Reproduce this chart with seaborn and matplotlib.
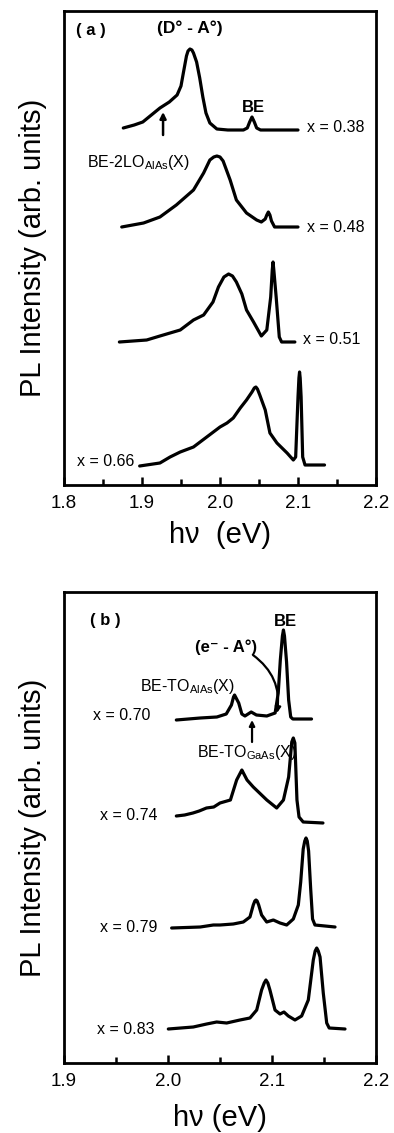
import numpy as np
import matplotlib
matplotlib.use("Agg")
import matplotlib.pyplot as plt
import seaborn as sns

sns.set_theme(style="ticks")
plt.rcParams['font.family'] = ['Liberation Sans', 'DejaVu Sans']
plt.rcParams['mathtext.fontset'] = 'custom'
plt.rcParams['mathtext.rm'] = 'Liberation Sans'
plt.rcParams['mathtext.default'] = 'regular'
plt.rcParams['text.color'] = 'black'
plt.rcParams['axes.labelcolor'] = 'black'
plt.rcParams['xtick.color'] = 'black'
plt.rcParams['ytick.color'] = 'black'

# ---------------- Panel (a) data ----------------
XTICKS_A = [1.8, 1.9, 2.0, 2.1, 2.2]
LABELS_A = ["x = 0.38", "x = 0.48", "x = 0.51", "x = 0.66"]
OFFSETS_A = [357, 258, 143, 19]

E_a38 = [1.876, 1.890, 1.901, 1.912, 1.923, 1.935, 1.945, 1.950, 1.953, 1.957, 1.959, 1.9615,
         1.964, 1.966, 1.970, 1.974, 1.978, 1.982, 1.987, 1.996, 2.010, 2.030, 2.035, 2.038,
         2.041, 2.044, 2.047, 2.052, 2.070, 2.100]
I_a38 = [0, 3, 6, 13, 20, 26, 33, 42, 55, 72, 77, 79, 78, 75, 66, 50, 31, 15, 5, -1, -2, -2,
         0, 6, 11, 6, 0, -2, -2, -2]

E_a48 = [1.874, 1.902, 1.923, 1.944, 1.966, 1.979, 1.987, 1.992, 1.996, 2.000, 2.004, 2.013,
         2.021, 2.034, 2.047, 2.053, 2.058, 2.060, 2.062, 2.064, 2.066, 2.070, 2.080, 2.100]
I_a48 = [0, 4, 10, 22, 37, 54, 67, 70, 71, 70, 66, 47, 27, 14, 7, 5, 8, 12, 15, 12, 6, 0, 0, 0]

E_a51 = [1.871, 1.906, 1.923, 1.949, 1.966, 1.979, 1.991, 1.998, 2.005, 2.011, 2.016, 2.021,
         2.028, 2.034, 2.043, 2.053, 2.060, 2.065, 2.067, 2.068, 2.069, 2.072, 2.076, 2.079,
         2.096]
I_a51 = [0, 2, 6, 12, 22, 27, 40, 55, 65, 68, 66, 60, 48, 32, 20, 6, 12, 45, 72, 80, 72, 45,
         5, 0, 0]

E_a66 = [1.897, 1.923, 1.936, 1.949, 1.966, 1.983, 2.000, 2.009, 2.017, 2.026, 2.034, 2.041,
         2.044, 2.046, 2.048, 2.051, 2.058, 2.064, 2.073, 2.086, 2.094, 2.097, 2.100, 2.1012,
         2.102, 2.1028, 2.104, 2.106, 2.109, 2.134]
I_a66 = [0, 3, 9, 14, 19, 29, 39, 43, 48, 58, 66, 74, 78, 79, 77, 71, 56, 33, 23, 13, 6, 9,
         69, 88, 94, 88, 69, 9, 1, 1]

# ---------------- Panel (b) data ----------------
XTICKS_B = [1.9, 2.0, 2.1, 2.2]
LABELS_B = ["x = 0.70", "x = 0.74", "x = 0.79", "x = 0.83"]
OFFSETS_B = [343, 240, 135, 34]

E_b70 = [2.008, 2.031, 2.047, 2.056, 2.061, 2.063, 2.064, 2.065, 2.068, 2.071, 2.074, 2.080,
         2.085, 2.095, 2.103, 2.106, 2.108, 2.110, 2.111, 2.112, 2.114, 2.116, 2.118, 2.120,
         2.138]
I_b70 = [0, 2, 3, 6, 15, 23, 25, 23, 17, 6, 4, 8, 5, 4, 7, 27, 60, 84, 90, 84, 58, 20, 3, 1, 1]

E_b74 = [2.008, 2.016, 2.024, 2.030, 2.037, 2.044, 2.050, 2.060, 2.066, 2.070, 2.071, 2.072,
         2.076, 2.082, 2.088, 2.095, 2.1045, 2.111, 2.116, 2.119, 2.1205, 2.122, 2.124, 2.126,
         2.130, 2.149]
I_b74 = [7, 8, 10, 12, 15, 16, 20, 23, 43, 51, 53, 51, 43, 36, 30, 23, 15, 23, 46, 81, 85, 80,
         23, 6, 1, 0]

E_b79 = [2.0035, 2.031, 2.0436, 2.050, 2.0628, 2.0724, 2.0788, 2.082, 2.0835, 2.0846, 2.0857,
         2.0872, 2.090, 2.0949, 2.1013, 2.1077, 2.1141, 2.1205, 2.1253, 2.1276, 2.130, 2.1315,
         2.1327, 2.1339, 2.1352, 2.1372, 2.139, 2.1413, 2.1606]
I_b79 = [0, 1, 3, 3, 4, 6, 11, 23, 27, 28, 27, 23, 13, 6, 8, 5, 3, 9, 23, 46, 79, 87, 90, 87,
         77, 39, 9, 3, 1]

E_b83 = [2.0003, 2.0243, 2.0372, 2.0468, 2.0564, 2.0692, 2.0788, 2.0853, 2.090, 2.0925, 2.0942,
         2.0960, 2.098, 2.1029, 2.1077, 2.1115, 2.1157, 2.1221, 2.1285, 2.1349, 2.1397, 2.1415,
         2.143, 2.1445, 2.1462, 2.1493, 2.1526, 2.155, 2.1702]
I_b83 = [0, 2, 5, 7, 6, 9, 11, 19, 39, 46, 49, 46, 39, 19, 15, 17, 13, 9, 13, 29, 69, 78, 81,
         78, 72, 36, 6, 1, 0]

CURVES_A = [(E_a38, I_a38), (E_a48, I_a48), (E_a51, I_a51), (E_a66, I_a66)]
CURVES_B = [(E_b70, I_b70), (E_b74, I_b74), (E_b79, I_b79), (E_b83, I_b83)]

W, H = 394, 1133
fig = plt.figure(figsize=(W / 100, H / 100), dpi=100)
ax_a = fig.add_axes([64 / W, 1 - 485 / H, 312 / W, 474 / H])
ax_b = fig.add_axes([64 / W, 1 - 1063 / H, 312 / W, 471 / H])

LW = 2.3
for ax, curves, offsets in ((ax_a, CURVES_A, OFFSETS_A), (ax_b, CURVES_B, OFFSETS_B)):
    for (e, i), off in zip(curves, offsets):
        sns.lineplot(x=e, y=np.array(i) + off, ax=ax, color='black', lw=LW,
                     sort=False, estimator=None,
                     solid_joinstyle='round', solid_capstyle='round')

def style(ax, xlim, ylim, xticks, xlabel, xlabel_y):
    ax.set_xlim(*xlim)
    ax.set_ylim(*ylim)
    ax.set_xticks(xticks)
    ax.set_xticklabels([f"{t:.1f}" for t in xticks], fontsize=13.5)
    ax.set_xticks(np.array(xticks[:-1]) + 0.05, minor=True)
    ax.set_yticks([])
    ax.tick_params(axis='x', which='major', direction='in', length=6, width=1.8,
                   pad=7, colors='black', top=False)
    ax.tick_params(axis='x', which='minor', direction='in', length=4, width=1.8,
                   top=False, bottom=True)
    for s in ax.spines.values():
        s.set_linewidth(2.0)
        s.set_color('black')
        s.set_visible(True)
    ax.set_facecolor('white')
    ax.set_xlabel(xlabel, fontsize=21, va='center')
    ax.xaxis.set_label_coords(0.5, xlabel_y)
    ax.set_ylabel("PL Intensity (arb. units)", fontsize=21, va='center')
    ax.yaxis.set_label_coords(-31 / 312, 0.5)

style(ax_a, (1.8, 2.2), (0, 474), XTICKS_A, "h\u03bd  (eV)", -50 / 474)
style(ax_b, (1.9, 2.2), (0, 471), XTICKS_B, "h\u03bd (eV)", -55 / 471)

LBL = 11.5
# panel (a) annotations
ax_a.text(1.8346, 454, "( a )", fontsize=12, fontweight='bold', ha='center', va='center')
ax_a.text(1.9615, 457, "(D\u00b0 - A\u00b0)", fontsize=12.5, fontweight='bold', ha='center', va='center')
ax_a.text(2.0423, 378, "BE", fontsize=12, fontweight='bold', ha='center', va='center')
ax_a.text(2.1115, OFFSETS_A[0], LABELS_A[0], fontsize=LBL, ha='left', va='center')
ax_a.text(2.1115, OFFSETS_A[1], LABELS_A[1], fontsize=LBL, ha='left', va='center')
ax_a.text(2.1064, OFFSETS_A[2] + 2, LABELS_A[2], fontsize=LBL, ha='left', va='center')
ax_a.text(1.8167, OFFSETS_A[3] + 5, LABELS_A[3], fontsize=LBL, ha='left', va='center')
ax_a.text(1.8295, 323, r"BE-2LO$_{AlAs}$(X)", fontsize=LBL, ha='left', va='center')
ax_a.annotate("", xy=(1.927, 373), xytext=(1.927, 350),
              arrowprops=dict(arrowstyle='-|>', color='black', lw=1.8, mutation_scale=9,
                              shrinkA=0, shrinkB=0))

# panel (b) annotations
ax_b.text(1.9394, 443, "( b )", fontsize=12, fontweight='bold', ha='center', va='center')
ax_b.text(2.1125, 441, "BE", fontsize=12, fontweight='bold', ha='center', va='center')
ax_b.text(2.0558, 416, "(e\u207b - A\u00b0)", fontsize=12, fontweight='bold', ha='center', va='center')
ax_b.text(1.973, 376, r"BE-TO$_{AlAs}$(X)", fontsize=LBL, ha='left', va='center')
ax_b.text(2.0279, 310, r"BE-TO$_{GaAs}$(X)", fontsize=LBL, ha='left', va='center')
ax_b.text(1.928, 348, LABELS_B[0], fontsize=LBL, ha='left', va='center')
ax_b.text(1.9346, 247, LABELS_B[1], fontsize=LBL, ha='left', va='center')
ax_b.text(1.9346, 136, LABELS_B[2], fontsize=LBL, ha='left', va='center')
ax_b.text(1.9317, 34, LABELS_B[3], fontsize=LBL, ha='left', va='center')
ax_b.annotate("", xy=(2.0808, 343), xytext=(2.0808, 321),
              arrowprops=dict(arrowstyle='-|>', color='black', lw=1.6, mutation_scale=8,
                              shrinkA=0, shrinkB=0))
ax_b.annotate("", xy=(2.1048, 350), xytext=(2.0817, 408),
              arrowprops=dict(arrowstyle='-|>', color='black', lw=1.6, mutation_scale=8,
                              shrinkA=0, shrinkB=0, connectionstyle='arc3,rad=-0.3'))

fig.savefig("out.png", dpi=100, facecolor='white')
